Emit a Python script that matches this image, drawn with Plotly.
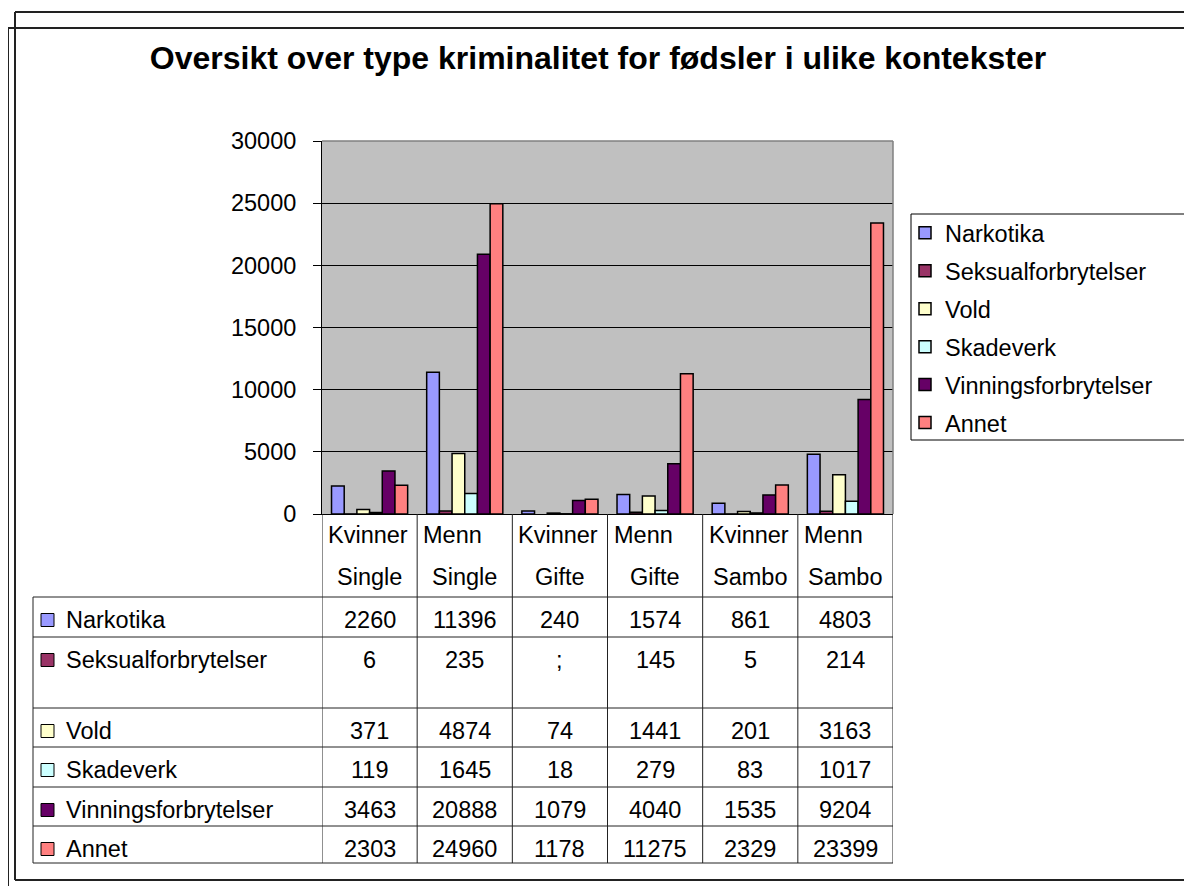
import plotly.graph_objects as go

# ---------------- data ----------------
groups = ["Kvinner", "Menn", "Kvinner", "Menn", "Kvinner", "Menn"]
contexts = ["Single", "Single", "Gifte", "Gifte", "Sambo", "Sambo"]
categories = [f"{g} {c}" for g, c in zip(groups, contexts)]

series_names = ["Narkotika", "Seksualforbrytelser", "Vold", "Skadeverk",
                "Vinningsforbrytelser", "Annet"]
narkotika = [2260, 11396, 240, 1574, 861, 4803]
seksual = [6, 235, None, 145, 5, 214]          # None shown as ";" in the table
vold = [371, 4874, 74, 1441, 201, 3163]
skadeverk = [119, 1645, 18, 279, 83, 1017]
vinning = [3463, 20888, 1079, 4040, 1535, 9204]
annet = [2303, 24960, 1178, 11275, 2329, 23399]
series_values = [narkotika, seksual, vold, skadeverk, vinning, annet]
missing_label = ";"

y_ticks = [0, 5000, 10000, 15000, 20000, 25000, 30000]
title_text = "Oversikt over type kriminalitet for fødsler i ulike kontekster"

# ---------------- styling / layout ----------------
colors = ["#9999FF", "#993366", "#FFFFCC", "#CCFFFF", "#660066", "#FF8080"]
FONT = "Liberation Sans, Arial, sans-serif"
FS = 23.5
W, H = 1192, 886
OFF = 8                       # page body margin
PL, PR, PT, PB = 322, 893, 141, 514   # plot area in screen pixels


def fx(p):
    return (p - PL) / (PR - PL)


def fy(p):
    return (PB - p) / (PB - PT)


fig = go.Figure()
for name, vals, col in zip(series_names, series_values, colors):
    fig.add_trace(go.Bar(
        x=categories, y=vals, name=name, legendgroup=name,
        marker=dict(color=col, line=dict(color="black", width=1.5)),
    ))

shapes = []
annotations = []
LINE = dict(color="#222222", width=1)
FRAME = dict(color="#222222", width=2)

# outer frames
shapes.append(dict(type="line", xref="paper", yref="paper", x0=fx(15), x1=fx(1210), y0=fy(12), y1=fy(12), line=FRAME))
shapes.append(dict(type="line", xref="paper", yref="paper", x0=fx(15), x1=fx(15), y0=fy(12), y1=fy(880), line=FRAME))
shapes.append(dict(type="line", xref="paper", yref="paper", x0=fx(15), x1=fx(1210), y0=fy(880), y1=fy(880), line=FRAME))
shapes.append(dict(type="line", xref="paper", yref="paper", x0=fx(8), x1=fx(1210), y0=fy(28), y1=fy(28), line=FRAME))
shapes.append(dict(type="line", xref="paper", yref="paper", x0=fx(8), x1=fx(8), y0=fy(28), y1=fy(900), line=FRAME))

# plot area top / right border (gray)
shapes.append(dict(type="line", xref="paper", yref="paper", x0=0, x1=1, y0=1, y1=1, line=dict(color="#808080", width=1.5)))
shapes.append(dict(type="line", xref="paper", yref="paper", x0=1, x1=1, y0=0, y1=1, line=dict(color="#808080", width=1.5)))

# legend box
shapes.append(dict(type="rect", xref="paper", yref="paper", x0=fx(911), x1=fx(1191), y0=fy(214), y1=fy(440), line=dict(color="black", width=1)))

# ---------------- data table ----------------
row_tops = [597, 637, 708, 747, 787, 826]
table_bottom = 863
for y in row_tops + [table_bottom]:
    shapes.append(dict(type="line", xref="paper", yref="paper", x0=fx(33), x1=1, y0=fy(y), y1=fy(y), line=LINE))
shapes.append(dict(type="line", xref="paper", yref="paper", x0=fx(33), x1=fx(33), y0=fy(597), y1=fy(table_bottom), line=LINE))
for i in range(len(categories) + 1):
    shapes.append(dict(type="line", xref="x", yref="paper", x0=i - 0.5, x1=i - 0.5, y0=0, y1=fy(table_bottom), line=LINE))

# header (category labels)
for i, (g, c) in enumerate(zip(groups, contexts)):
    annotations.append(dict(xref="x", yref="paper", x=i - 0.5, xshift=4, y=fy(535), text=g,
                            xanchor="left", yanchor="middle", showarrow=False,
                            font=dict(family=FONT, size=FS, color="black")))
    annotations.append(dict(xref="x", yref="paper", x=categories[i], y=fy(577), text=c,
                            xanchor="center", yanchor="middle", showarrow=False,
                            font=dict(family=FONT, size=FS, color="black")))

# rows
for r, (name, vals, col) in enumerate(zip(series_names, series_values, colors)):
    top = row_tops[r]
    yc = top + 23
    shapes.append(dict(type="rect", xref="paper", yref="paper", x0=fx(41), x1=fx(54),
                       y0=fy(yc - 6.5), y1=fy(yc + 6.5), fillcolor=col, line=dict(color="black", width=1)))
    annotations.append(dict(xref="paper", yref="paper", x=fx(64), y=fy(yc), text=name,
                            xanchor="left", yanchor="middle", showarrow=False,
                            font=dict(family=FONT, size=FS, color="black")))
    for i, v in enumerate(vals):
        annotations.append(dict(xref="x", yref="paper", x=categories[i], y=fy(yc),
                                text=missing_label if v is None else str(v),
                                xanchor="center", yanchor="middle", showarrow=False,
                                font=dict(family=FONT, size=FS, color="black")))

fig.update_layout(
    width=W, height=H,
    margin=dict(l=PL - OFF, r=W - (PR - OFF), t=PT - OFF, b=H - (PB - OFF), pad=0),
    paper_bgcolor="white", plot_bgcolor="#C0C0C0",
    barmode="group", bargap=0.2, bargroupgap=0,
    title=dict(text="<b>" + title_text + "</b>", x=(598 - OFF) / W, xanchor="center",
               y=1 - (58 - OFF) / H, yanchor="middle", xref="container", yref="container",
               font=dict(family=FONT, size=32, color="black")),
    font=dict(family=FONT, size=FS, color="black"),
    showlegend=True,
    legend=dict(x=fx(905), y=fy(211), xanchor="left", yanchor="top",
                bgcolor="rgba(0,0,0,0)", borderwidth=0,
                font=dict(family=FONT, size=FS, color="black"),
                tracegroupgap=4.4, traceorder="grouped"),
    xaxis=dict(type="category", categoryorder="array", categoryarray=categories,
               range=[-0.5, len(categories) - 0.5], showticklabels=False, ticks="",
               showline=True, linecolor="black", linewidth=1, showgrid=False, zeroline=False),
    yaxis=dict(range=[0, 30000], tickvals=y_ticks, tickformat="d", ticks="outside", ticklen=8,
               tickcolor="black", showline=True, linecolor="black", linewidth=1,
               showgrid=True, gridcolor="black", gridwidth=1, zeroline=False,
               tickfont=dict(family=FONT, size=FS, color="black"), ticklabelstandoff=12),
    shapes=shapes, annotations=annotations,
)

fig.write_html("out.html")
